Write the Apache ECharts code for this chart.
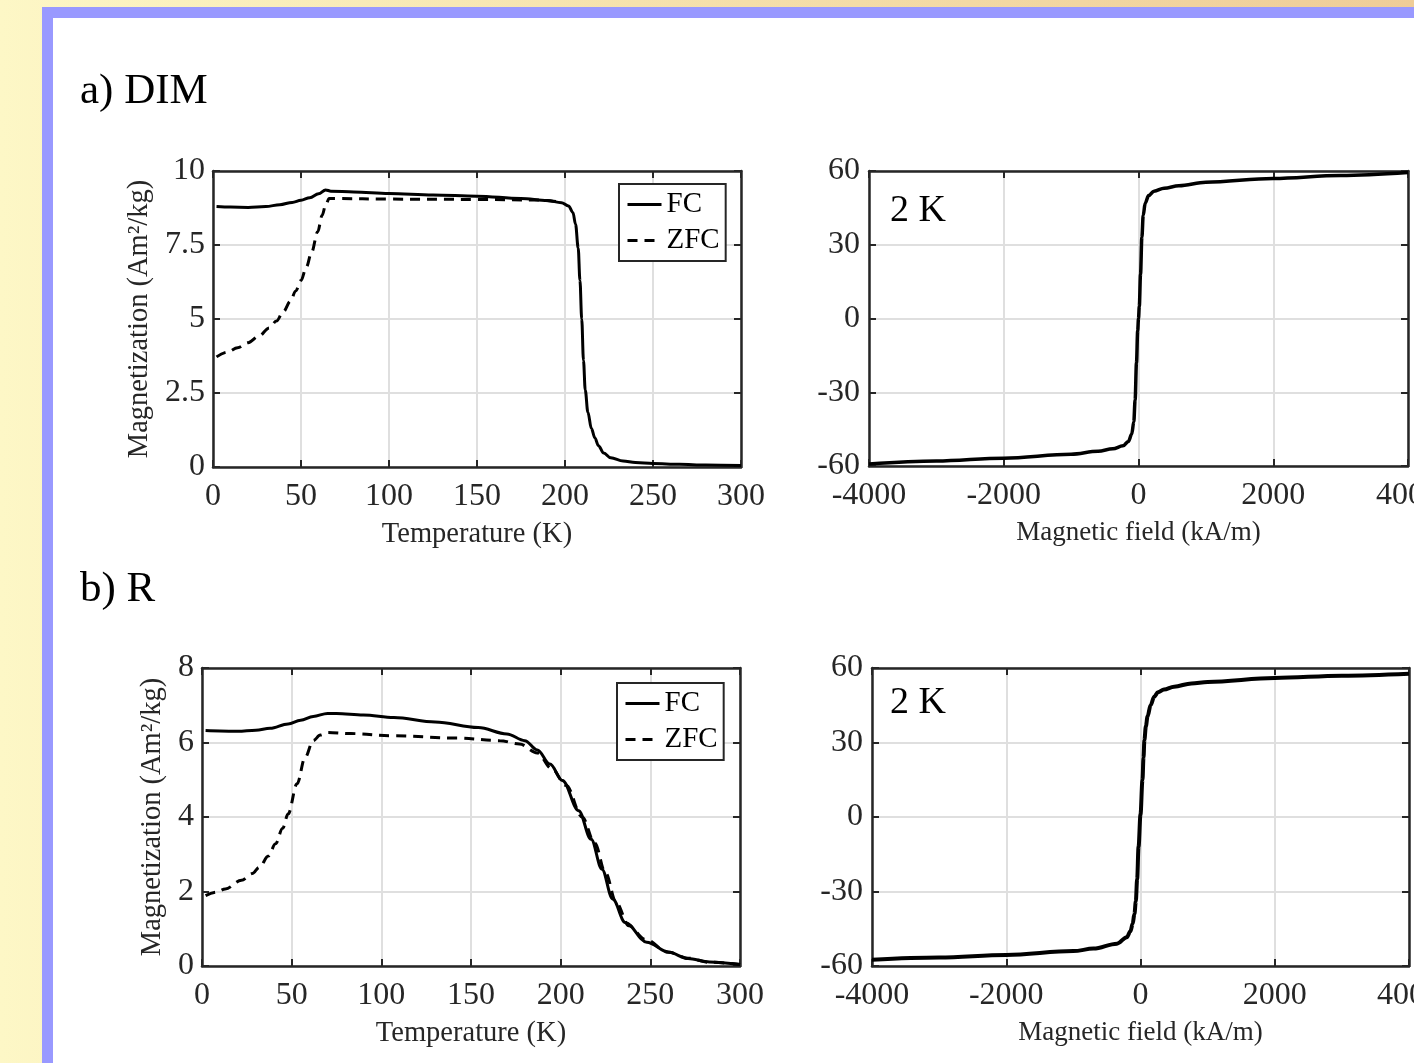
<!DOCTYPE html>
<html>
<head>
<meta charset="utf-8">
<title>DIM / R magnetization</title>
<script src="https://cdn.jsdelivr.net/npm/echarts@6/dist/echarts.min.js"></script>
<style>
    html, body { margin: 0; padding: 0; }
    body {
        width: 1414px; height: 1063px; overflow: hidden; position: relative;
        background: linear-gradient(to right, #fdf7c6 0%, #f6e2ad 45%, #efcd98 100%);
    }
    .frame { position: absolute; left: 42px; top: 7px; right: 0; bottom: 0; background: #9999ff; }
    .paper { position: absolute; left: 53px; top: 18px; right: 0; bottom: 0; background: #fff; }
    #chart { position: absolute; left: 0; top: 0; width: 1414px; height: 1063px; }
</style>
</head>
<body>
<div class="frame"></div>
<div class="paper"></div>
<div id="chart"></div>
<script>
// a) DIM : FC / ZFC, [T (K), M (Am2/kg)]
const dimFC = [
    [2, 8.80], [10, 8.78], [20, 8.77], [30, 8.80], [38, 8.86], [45, 8.94], [50, 9.01], [55, 9.1],
    [60, 9.23], [64, 9.36], [67, 9.32], [80, 9.29], [100, 9.24], [125, 9.19], [150, 9.15], [175, 9.07],
    [190, 9.0], [198, 8.93], [202, 8.82], [204.5, 8.6], [206, 8.2], [207.5, 7.4], [208.5, 6.3], [209.5, 5.0],
    [210.5, 3.6], [211.5, 2.6], [213, 1.85], [215, 1.3], [217, 0.98], [219, 0.72], [222, 0.47], [226, 0.31],
    [233, 0.2], [240, 0.15], [250, 0.12], [265, 0.09], [280, 0.07], [300, 0.05]
];
const dimZFC = [
    [2, 3.72], [8, 3.88], [14, 4.03], [20, 4.2], [26, 4.42], [32, 4.7], [36, 4.93], [40, 5.25],
    [44, 5.6], [47, 5.95], [50, 6.3], [53, 6.75], [56, 7.25], [59.5, 7.95], [62, 8.5], [64, 8.85],
    [66, 9.07], [70, 9.07], [100, 9.05], [150, 9.04], [185, 9.02], [196, 8.96]
];
// a) DIM : loop at 2 K, [H (kA/m), M (Am2/kg)]
const dimLoop = [
    [-4000, -59.2], [-3000, -58.0], [-2000, -56.8], [-1000, -55.2], [-600, -54.0], [-380, -53.0],
    [-230, -51.8], [-150, -50.0], [-100, -47.0], [-70, -42.0], [-50, -33.0], [-30, -18.0], [-12, -5.0],
    [0, 0], [12, 5.0], [30, 18.0], [50, 33.0], [70, 42.0], [100, 47.0], [150, 50.0], [230, 51.8],
    [380, 53.0], [600, 54.0], [1000, 55.4], [2000, 57.0], [3000, 58.2], [4000, 59.4]
];
// b) R : FC / ZFC
const rFC = [
    [2, 6.32], [10, 6.31], [20, 6.30], [30, 6.33], [38, 6.38], [48, 6.5], [55, 6.6], [62, 6.7],
    [70, 6.78], [75, 6.78], [90, 6.74], [107, 6.67], [130, 6.55], [154, 6.4], [170, 6.23], [180, 6.05],
    [187, 5.8], [194, 5.42], [201, 4.98], [210, 4.17], [217, 3.4], [223, 2.6], [229, 1.8], [236, 1.17],
    [248, 0.64], [260, 0.375], [271, 0.2], [283, 0.11], [300, 0.04]
];
const rZFC = [
    [2, 1.89], [8, 1.98], [13, 2.07], [22, 2.3], [28, 2.48], [32, 2.65], [37, 2.95], [41, 3.28],
    [45, 3.7], [48, 4.08], [53, 4.89], [57.5, 5.6], [62, 6.05], [66, 6.2], [70, 6.27], [83, 6.24],
    [107, 6.18], [142, 6.12], [166, 6.05], [177, 5.96], [187, 5.72], [195, 5.3], [203, 4.85], [212, 4.0],
    [219, 3.3], [225, 2.5], [231, 1.7], [238, 1.08], [247, 0.72], [260, 0.37], [271, 0.21], [283, 0.1],
    [300, 0.04]
];
// b) R : loop at 2 K
const rLoop = [
    [-4000, -57.5], [-3000, -56.6], [-2000, -55.6], [-1000, -54.0], [-700, -53.0], [-350, -51.0],
    [-204, -48.4], [-150, -46.0], [-117, -43.0], [-90, -39.0], [-70, -34.0], [-50, -25.0], [-29, -12.0],
    [0, 1.0], [29, 14.8], [45, 24.0], [58, 31.0], [80, 36.5], [105, 40.5], [150, 45.0], [204, 48.4],
    [260, 50.2], [350, 51.3], [500, 52.5], [758, 53.8], [1000, 54.4], [2000, 56.0], [3000, 56.9],
    [4000, 57.7]
];

const tempTicks = { min: 0, max: 300, interval: 50 };
const fieldTicks = { min: -4000, max: 4000, interval: 2000 };
const legendNames = ['FC', 'ZFC'];

const FONT = '"Liberation Serif", "Times New Roman", serif';
const INK = '#262626';

const chart = echarts.init(document.getElementById('chart'));

// 轴：下/左带刻度标签，上/右只画刻度，形成 MATLAB 的 box 效果
function axisPair(dim, gridIndex, range, name, nameGap, nameSize, labelMargin) {
    const base = {
        type: 'value', gridIndex: gridIndex,
        min: range.min, max: range.max, interval: range.interval,
        axisLine: { show: true, onZero: false, lineStyle: { color: INK, width: 2.5 } },
        axisTick: { show: true, inside: true, length: 7, lineStyle: { color: INK, width: 2 } }
    };
    const main = Object.assign({}, base, {
        position: dim === 'x' ? 'bottom' : 'left',
        splitLine: { show: true, lineStyle: { color: '#dfdfdf', width: 2 } },
        axisLabel: {
            fontFamily: FONT, fontSize: 32, color: INK, margin: labelMargin,
            showMinLabel: true, showMaxLabel: true,
            formatter: function (v) { return String(v); }
        }
    });
    if (name) {
        main.name = name;
        main.nameLocation = 'middle';
        main.nameGap = nameGap;
        main.nameTextStyle = { fontFamily: FONT, fontSize: nameSize, color: INK };
    }
    const mirror = Object.assign({}, base, {
        position: dim === 'x' ? 'top' : 'right',
        splitLine: { show: false },
        axisLabel: { show: false }
    });
    return [main, mirror];
}

function lineSeries(name, gridNo, data, dashed, width) {
    return {
        name: name, type: 'line',
        xAxisIndex: gridNo * 2, yAxisIndex: gridNo * 2,
        data: data, symbol: 'none', smooth: 0.35, smoothMonotone: 'x',
        lineStyle: { color: '#000', width: width || 3, type: dashed ? [10, 7] : 'solid' },
        itemStyle: { color: '#000' },
        z: dashed ? 3 : 4
    };
}

function legendBox(left, top) {
    return {
        data: legendNames, left: left, top: top, orient: 'vertical',
        backgroundColor: '#fff', borderColor: INK, borderWidth: 2,
        padding: [6, 6, 6, 7], itemGap: 7, itemWidth: 34, itemHeight: 1,
        selectedMode: false,
        itemStyle: { opacity: 0 },
        lineStyle: { width: 3 },
        textStyle: { fontFamily: FONT, fontSize: 29, lineHeight: 28, color: '#000' }
    };
}

function label(text, x, y, size) {
    return {
        type: 'text', x: x, y: y, z: 10,
        style: { text: text, fontFamily: FONT, fontSize: size, fill: '#000', verticalAlign: 'middle' }
    };
}

const mLabel = 'Magnetization (Am²/kg)';

const xAxes = [].concat(
    axisPair('x', 0, tempTicks, 'Temperature (K)', 53, 28.5, 14),
    axisPair('x', 1, fieldTicks, 'Magnetic field (kA/m)', 53, 27, 14),
    axisPair('x', 2, tempTicks, 'Temperature (K)', 53, 28.5, 14),
    axisPair('x', 3, fieldTicks, 'Magnetic field (kA/m)', 53, 27, 14)
);
const yAxes = [].concat(
    axisPair('y', 0, { min: 0, max: 10, interval: 2.5 }, mLabel, 59, 28.5, 8),
    axisPair('y', 1, { min: -60, max: 60, interval: 30 }, null, 0, 0, 9),
    axisPair('y', 2, { min: 0, max: 8, interval: 2 }, mLabel, 35, 28.5, 8),
    axisPair('y', 3, { min: -60, max: 60, interval: 30 }, null, 0, 0, 9)
);

const gridBase = { outerBoundsMode: 'none', containLabel: false };

chart.setOption({
    animation: false,
    grid: [
        Object.assign({ left: 213, top: 171, width: 528, height: 296 }, gridBase),
        Object.assign({ left: 869, top: 171, width: 539, height: 295 }, gridBase),
        Object.assign({ left: 202, top: 668, width: 538, height: 298 }, gridBase),
        Object.assign({ left: 872, top: 668, width: 537, height: 298 }, gridBase)
    ],
    xAxis: xAxes,
    yAxis: yAxes,
    legend: [legendBox(619, 184), legendBox(617, 683)],
    graphic: [
        label('a) DIM', 80, 92, 43),
        label('b) R', 80, 590, 43),
        label('2 K', 890, 211, 38),
        label('2 K', 890, 703, 38)
    ],
    series: [
        lineSeries('ZFC', 0, dimZFC, true),
        lineSeries('FC', 0, dimFC, false),
        lineSeries('loop', 1, dimLoop, false, 3.5),
        lineSeries('ZFC', 2, rZFC, true),
        lineSeries('FC', 2, rFC, false),
        lineSeries('loop', 3, rLoop, false, 4)
    ]
});
</script>
</body>
</html>
